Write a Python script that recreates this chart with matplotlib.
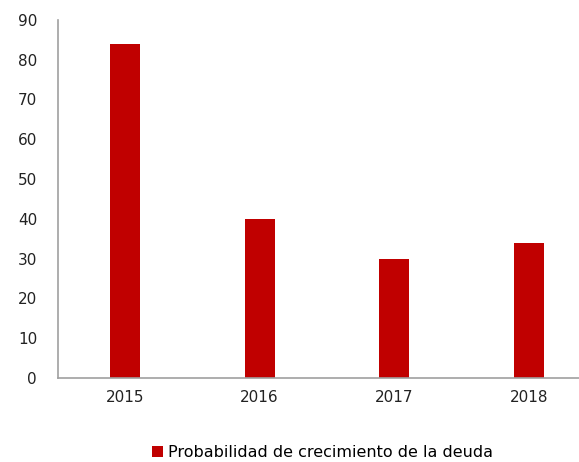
import matplotlib
matplotlib.use("Agg")
import matplotlib.pyplot as plt

categories = ["2015", "2016", "2017", "2018"]
values = [84, 40, 30, 34]
yticks = [0, 10, 20, 30, 40, 50, 60, 70, 80, 90]
series_name = "Probabilidad de crecimiento de la deuda"

fig = plt.figure(figsize=(5.79, 4.62), dpi=100)
ax = fig.add_axes([0.100, 0.182, 0.900, 0.775])
x = list(range(len(categories)))
ax.bar(x, values, width=0.223, color="#C00000", label=series_name)
ax.set_xlim(-0.5, 3.374)
ax.set_ylim(0, 90)
ax.set_yticks(yticks)
ax.set_xticks(x)
ax.set_xticklabels(categories)
ax.tick_params(axis="both", length=0, labelsize=11, colors="#222222")
ax.tick_params(axis="y", pad=15)
ax.tick_params(axis="x", pad=9)
for s in ["top", "right"]:
    ax.spines[s].set_visible(False)
for s in ["left", "bottom"]:
    ax.spines[s].set_color("#A0A0A0")
    ax.spines[s].set_linewidth(1.2)
fig.legend(loc="center", bbox_to_anchor=(0.557, 0.02), frameon=False, fontsize=11.5,
           handlelength=0.7, handleheight=0.7, handletextpad=0.3, borderaxespad=0)
fig.savefig("out.png", dpi=100)
